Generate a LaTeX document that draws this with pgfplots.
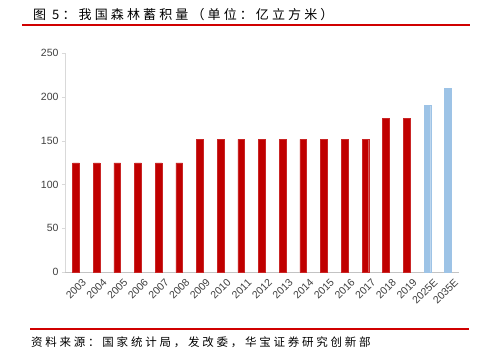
\documentclass[border=0pt]{standalone}
\usepackage{fontspec}
\setmainfont{Liberation Sans}
\newfontfamily\cjk{Noto Sans CJK SC}
\newfontfamily\cjktitle[LetterSpace=24]{Noto Sans CJK SC}
\newfontfamily\cjksrc[LetterSpace=24]{Noto Sans CJK SC}
\usepackage{pgfplots}
\pgfplotsset{compat=1.18}
\definecolor{barred}{HTML}{C00000}
\definecolor{barblue}{HTML}{9DC3E6}
\definecolor{txt}{HTML}{404040}
\definecolor{axgray}{HTML}{D9D9D9}
\definecolor{linered}{HTML}{D00000}
\begin{document}
\begin{tikzpicture}[x=1pt,y=1pt]
\path[fill=white] (0,0) rectangle (483,357);
\node[anchor=west,inner sep=0pt] at (33,342) {\fontsize{13}{13}\cjktitle 图 5：我国森林蓄积量（单位：亿立方米）};
\draw[linered,line width=1.3pt] (22,332) -- (470,332);
\draw[linered,line width=1.3pt] (30,28) -- (469,28);
\node[anchor=west,inner sep=0pt] at (31,15) {\fontsize{11.5}{11.5}\cjksrc 资料来源：国家统计局，发改委，华宝证券研究创新部};
\begin{axis}[
  at={(65pt,85pt)}, anchor=south west,
  scale only axis, width=394pt, height=219pt,
  xmin=-0.53, xmax=18.53, ymin=0, ymax=250,
  ytick={0,50,100,150,200,250},
  xtick={0,...,18},
  xticklabels={2003,2004,2005,2006,2007,2008,2009,2010,2011,2012,2013,2014,2015,2016,2017,2018,2019,2025E,2035E},
  axis x line*=bottom, axis y line*=left,
  axis line style={axgray},
  x axis line style={-, color=axgray!90!black},
  y axis line style={-},
  major tick length=3pt,
  tick align=outside,
  x tick style={draw=none},
  y tick style={axgray},
  tick label style={font=\fontsize{10.5}{10.5}\selectfont, text=txt},
  /pgf/number format/assume math mode=true,
  x tick label style={rotate=45, anchor=north east, inner sep=0pt, xshift=2pt, yshift=-6pt},
  ybar, bar width=6.7pt,
  clip=false,
]
\addplot[fill=barred, draw=barred!85!white, bar shift=0pt] coordinates {
(0,124.56) (1,124.56) (2,124.56) (3,124.56) (4,124.56) (5,124.56)
(6,151.37) (7,151.37) (8,151.37) (9,151.37) (10,151.37) (11,151.37) (12,151.37) (13,151.37) (14,151.37)
(15,175.6) (16,175.6)};
\addplot[fill=barblue, draw=barblue, bar shift=0pt] coordinates {(17,190) (18,210)};
\end{axis}
\end{tikzpicture}
\end{document}
